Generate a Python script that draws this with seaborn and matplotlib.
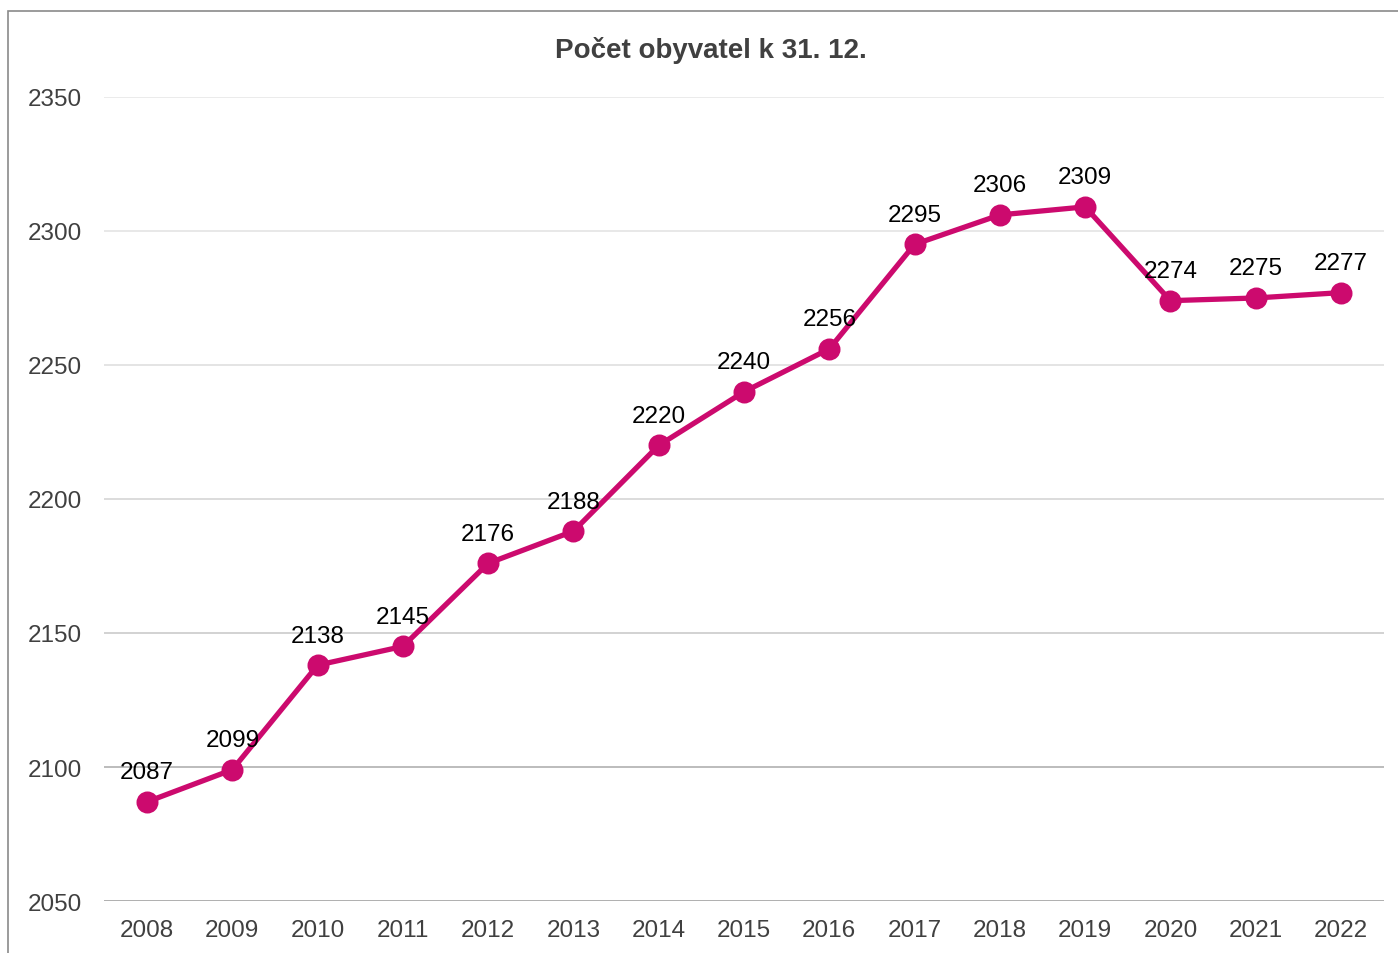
import matplotlib
matplotlib.use('AGG')
import matplotlib.pyplot as plt
import matplotlib.patches as mpatches
import seaborn as sns
import pandas as pd

# data
years = ['2008', '2009', '2010', '2011', '2012', '2013', '2014', '2015',
         '2016', '2017', '2018', '2019', '2020', '2021', '2022']
population = [2087, 2099, 2138, 2145, 2176, 2188, 2220, 2240,
              2256, 2295, 2306, 2309, 2274, 2275, 2277]
y_ticks = [2050, 2100, 2150, 2200, 2250, 2300, 2350]
title = 'Počet obyvatel k 31. 12.'

line_color = '#CC0A6E'
grid_colors = ['#9a9a9a', '#a9a9a9', '#c6c6c6', '#d2d2d2', '#dcdcdc', '#e2e2e2', '#e6e6e6']

sns.set_theme(style='white')
plt.rcParams['font.family'] = ['Liberation Sans', 'DejaVu Sans']

df = pd.DataFrame({'year': years, 'pop': population})

fig = plt.figure(figsize=(13.98, 9.54), dpi=100, facecolor='white')
ax = fig.add_axes([0.0747, 0.0545, 0.915, 0.8428])

# outer frame of the chart (right and bottom edges are cut off)
frame = mpatches.Rectangle((0.0057, -0.02), 1.1, 0.9874 + 0.02, transform=fig.transFigure,
                           fill=False, edgecolor='#8a8a8a', linewidth=1.2, zorder=0)
fig.patches.append(frame)

for val, col in zip(y_ticks, grid_colors):
    ax.axhline(val, color=col, linewidth=1.1, zorder=1)

sns.pointplot(data=df, x='year', y='pop', color=line_color, ax=ax,
              linewidth=3.8, markersize=13, zorder=3)

for i, v in enumerate(population):
    ax.annotate(str(v), (i, v), xytext=(0, 17), textcoords='offset points',
                ha='center', va='baseline', fontsize=17.5, color='black', zorder=4)

ax.set_xlim(-0.5, len(years) - 0.5)
ax.set_ylim(2050, 2350)
ax.set_yticks(y_ticks)
ax.set_xlabel('')
ax.set_ylabel('')
ax.grid(False)
for s in ax.spines.values():
    s.set_visible(False)
ax.tick_params(axis='y', length=0, pad=16, labelsize=17.5, labelcolor='#404040')
ax.tick_params(axis='x', length=0, pad=13, labelsize=17.5, labelcolor='#404040')

fig.text(0.5087, 0.947, title, ha='center', va='center', fontsize=20,
         fontweight='bold', color='#404040')

fig.savefig('out.png', dpi=100, facecolor='white')
